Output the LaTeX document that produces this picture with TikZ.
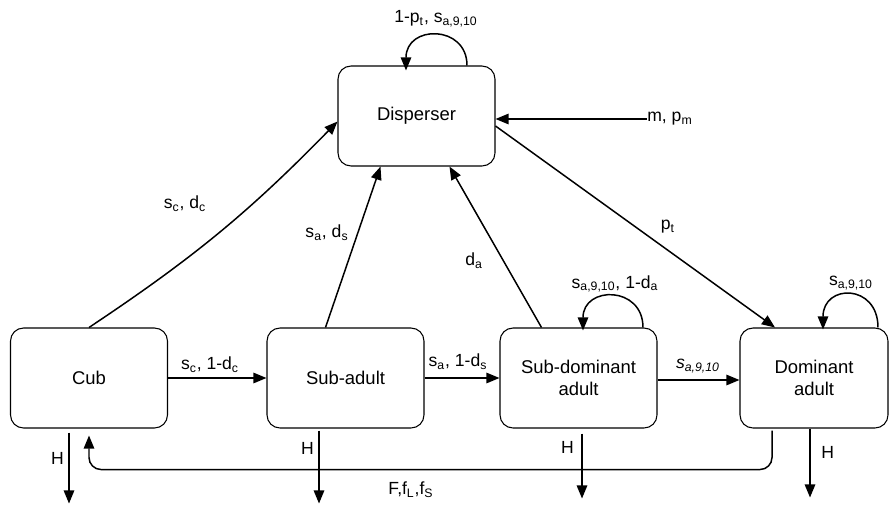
\documentclass[tikz,border=0pt]{standalone}
\usepackage{fontspec}
\setmainfont{Liberation Sans}
\usetikzlibrary{arrows.meta, calc, positioning}
\tikzset{>={Triangle[length=7.5pt,width=6pt]}}
\newcommand{\sbs}[1]{\textsubscript{#1}}

\begin{document}
\begin{tikzpicture}[
    x = 0.02cm, y = -0.02cm,
    box/.style = {draw, line width=0.6pt, rounded corners=2.6mm,
        minimum width=3.14cm, minimum height=2cm, align=center,
        font=\fontsize{10.5}{12.5}\selectfont},
    lbl/.style = {inner sep=0pt, font=\fontsize{10}{12}\selectfont},
    flow/.style = {->, line width=0.85pt}
  ]
  \useasboundingbox (0,0) rectangle (889,507);

  % stages
  \node[box] (disp) at (416.5,116) {Disperser};
  \node[box] (cub) at (89,378) {Cub};
  \node[box] (sub) at (345.5,378) {Sub-adult};
  \node[box] (subdom) at (578.5,378) {Sub-dominant\\adult};
  \node[box, minimum width=2.96cm] (dom) at (814,378) {Dominant\\adult};

  % growing up
  \draw[flow] (cub.east) -- (sub.west);
  \draw[flow] (sub.west -| sub.east) -- (subdom.west);
  \draw[flow] ($(subdom.east)+(0,2)$) -- ($(dom.west)+(0,2)$);

  % dispersal
  \draw[flow] (cub.north) to[bend right=6] (disp.184);
  \draw[flow] ($(sub.north)+(-20,0)$) -- ($(disp.south)+(-36,0)$);
  \draw[flow] ($(subdom.north)+(-37,0)$) -- ($(disp.south)+(33,0)$);
  \draw[flow] ($(disp.east)+(0,10)$) -- ($(dom.north)+(-39,0)$);

  % immigration
  \node[lbl, anchor=west] (imm) at (647,119) {m, p\sbs{m}};
  \draw[flow] (imm.west) -- (imm.west -| disp.east);

  % staying
  \draw[flow] ($(disp.north)+(50.5,0)$) .. controls +(0,-41) and +(0,-46) .. ($(disp.north)+(-10.5,5)$);
  \draw[flow] ($(subdom.north)+(64.5,0)$) .. controls +(0,-42) and +(0,-45) .. ($(subdom.north)+(4.5,3)$);
  \draw[flow] ($(dom.north)+(64,0)$) .. controls +(0,-44) and +(0,-46) .. ($(dom.north)+(9,2)$);

  % harvest
  \foreach \st/\dx/\dy/\len/\side/\gap/\p in {cub/-20/4/71/left/2.5pt/0.37,
      sub/-26.5/2/73/left/2.5pt/0.25, subdom/3.5/5/65/left/4.3pt/0.22,
      dom/-4/0/69/right/6pt/0.35}
    \draw[flow] ($(\st.south)+(\dx,\dy)$) -- node[lbl, \side=\gap, pos=\p] {H} ++(0,\len);

  % reproduction
  \draw[flow, rounded corners=0.24cm] ($(dom.south)+(-42,2)$) -- ++(0,39)
    -| ($(cub.south)+(0,7)$);

  % rates
  \node[lbl] (l-disp) at (436,19) {1-p\sbs{t}, s\sbs{a,9,10}};
  \node[lbl] (l-cs) at (210,365) {s\sbs{c}, 1-d\sbs{c}};
  \node[lbl] (l-ss) at (458,362) {s\sbs{a}, 1-d\sbs{s}};
  \node[lbl] (l-sd) at (698,366) {\textit{s\sbs{a,9,10}}};
  \node[lbl] (l-cd) at (185,204) {s\sbs{c}, d\sbs{c}};
  \node[lbl] (l-sad) at (327,233) {s\sbs{a}, d\sbs{s}};
  \node[lbl] (l-da) at (474,261) {d\sbs{a}};
  \node[lbl] (l-pt) at (668,227) {p\sbs{t}};
  \node[lbl] (l-sdl) at (615,284) {s\sbs{a,9,10}, 1-d\sbs{a}};
  \node[lbl] (l-dl) at (851,283) {s\sbs{a,9,10}};
  \node[lbl] (l-f) at (411,490) {F,f\sbs{L},f\sbs{S}};
\end{tikzpicture}
\end{document}
